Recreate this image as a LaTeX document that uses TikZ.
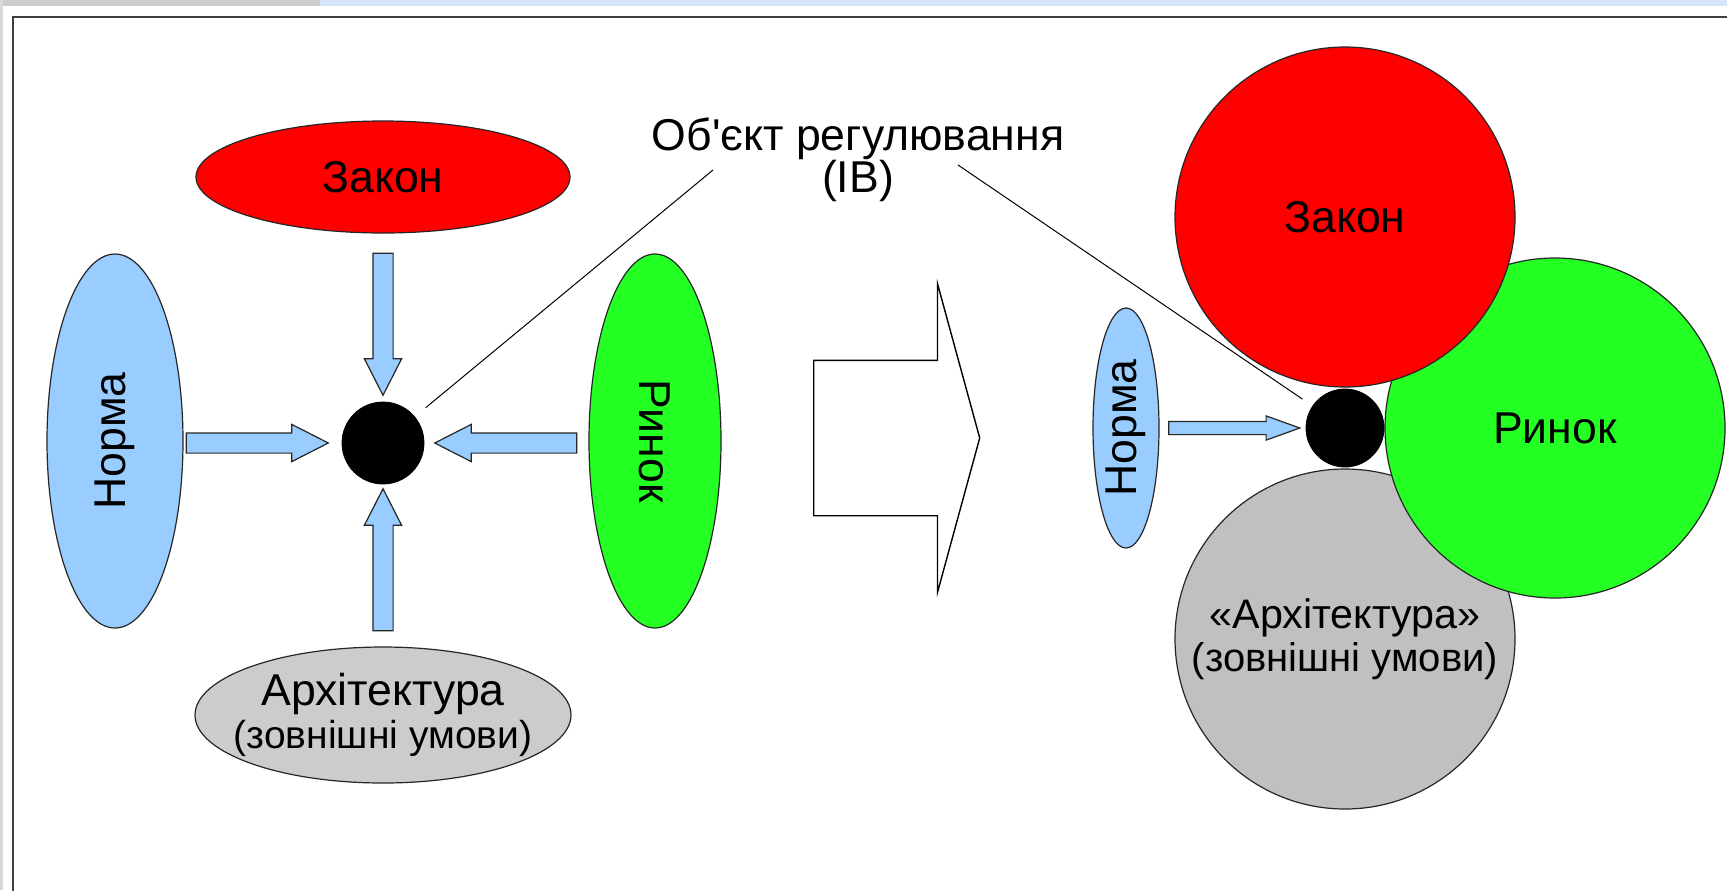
\documentclass[tikz,border=0pt]{standalone}
\usepackage{fontspec}
\setmainfont{Liberation Sans}
\usetikzlibrary{calc, positioning, shapes.geometric, shapes.arrows}

\definecolor{lawred}{RGB}{255,0,0}
\definecolor{normblue}{RGB}{153,204,255}
\definecolor{marketgreen}{RGB}{36,255,36}
\definecolor{archgray}{RGB}{204,204,204}
\definecolor{archgraydark}{RGB}{192,192,192}
\definecolor{barblue}{RGB}{214,229,247}

\newcommand{\smalltxt}[1]{{\fontsize{19.5}{21.5}\selectfont #1}}

\tikzset{
  txt/.style={font=\fontsize{22.3}{21.5}\selectfont, align=center},
  shapeborder/.style={draw=black!85, line width=0.6pt, inner sep=0pt},
  forcearrow/.style={single arrow, shapeborder, fill=normblue, inner ysep=4.75pt,
    single arrow head extend=4.25pt, single arrow tip angle=54, minimum height=71pt},
  leader/.style={black, line width=0.5pt}
}

\begin{document}
\begin{tikzpicture}[x=50pt, y=-50pt]
\clip (0,0) rectangle (17.27,8.90);
\fill[white] (0,0) rectangle (17.27,8.90);
% window edges and frame
\fill[black!20] (0,0) rectangle (3.2,0.06);
\fill[barblue] (3.2,0) rectangle (17.27,0.06);
\fill[black!15] (0,0) rectangle (0.03,8.90);
\draw[black!75, line width=1pt] (0.135,0.17) rectangle (17.6,9.2);

% Left: four regulators around the object
\node[ellipse, shapeborder, fill=lawred, minimum width=187pt, minimum height=56pt, txt] (lawL) at (3.83,1.77) {Закон};
\node[ellipse, shapeborder, fill=normblue, rotate=90, minimum width=187pt, minimum height=68pt, txt] (normL) at (1.15,4.41) {Норма};
\node[ellipse, shapeborder, fill=marketgreen, rotate=-90, minimum width=187pt, minimum height=66pt, txt] (marketL) at (6.55,4.41) {Ринок};
\node[ellipse, shapeborder, fill=archgray, minimum width=188pt, minimum height=68pt, inner xsep=-12pt, txt] (archL) at (3.83,7.15) {Архітектура\\\smalltxt{(зовнішні умови)}};
\node[circle, fill=black, draw=black, minimum size=41pt, inner sep=0pt] (dotL) at (3.83,4.43) {};

% Forces
\node[forcearrow, rotate=-90, anchor=tip] (fLaw) at ([yshift=2.5pt]dotL.north) {};
\node[forcearrow, anchor=tip] (fNorm) at ([xshift=-6pt]dotL.west) {};
\node[forcearrow, rotate=180, anchor=tip] (fMarket) at ([xshift=4.5pt]dotL.east) {};
\node[forcearrow, rotate=90, anchor=tip] (fArch) at ([yshift=-1.5pt]dotL.south) {};

% Transition
\node[single arrow, draw=black, line width=0.7pt, fill=white, inner xsep=0pt, inner ysep=38.5pt, minimum height=83pt,
  single arrow head extend=38.25pt, single arrow tip angle=149.4, anchor=tail] (shift) at (8.13,4.38) {};

% Right: overlapping regulators
\node[circle, shapeborder, fill=archgraydark, minimum size=170pt, txt, font=\fontsize{20.6}{21.5}\selectfont] (archR) at (13.45,6.39) {«Архітектура»\\{\fontsize{20}{21.5}\selectfont(зовнішні умови)}};
\node[circle, shapeborder, fill=marketgreen, minimum size=170pt, txt] (marketR) at (15.55,4.28) {Ринок};
\node[circle, shapeborder, fill=lawred, minimum size=170pt, txt] (lawR) at (13.45,2.17) {Закон};
\node[circle, fill=black, draw=black, minimum size=39pt, inner sep=0pt] (dotR) at (13.45,4.28) {};
\node[ellipse, shapeborder, fill=normblue, rotate=90, minimum width=120pt, minimum height=33pt, txt] (normR) at (11.26,4.28) {Норма};
\node[forcearrow, inner ysep=3pt, single arrow head extend=2.75pt, single arrow tip angle=39.5,
  minimum height=65.5pt, anchor=tip] (fNormR) at ([xshift=-2pt]dotR.west) {};

% Object label
\node[txt, font=\fontsize{22.3}{21}\selectfont] (obj) at (8.58,1.60) {Об\textquotesingle єкт регулювання\\(ІВ)};
\coordinate (objA) at (7.13,1.70);
\coordinate (objB) at (9.58,1.65);
\draw[leader, shorten >=7pt] (objA) -- (dotL);
\draw[leader, shorten >=6pt] (objB) -- (dotR);
\end{tikzpicture}
\end{document}
